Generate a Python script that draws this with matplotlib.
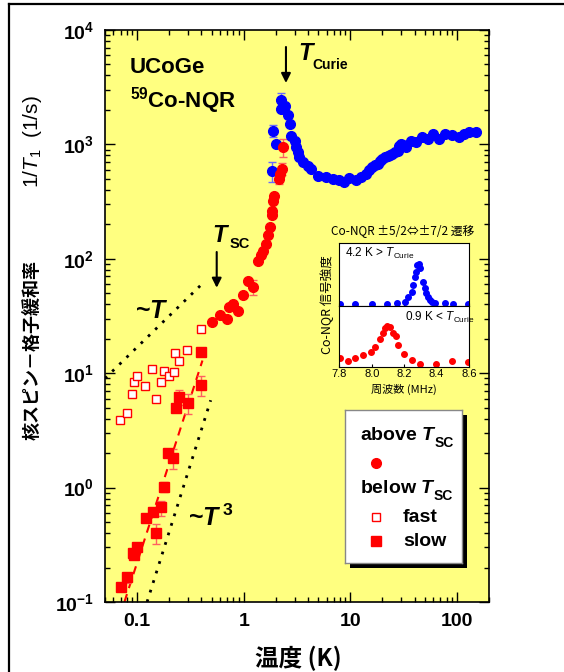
import numpy as np
import matplotlib
matplotlib.use('Agg')
import matplotlib.pyplot as plt
from matplotlib.ticker import FuncFormatter, LogLocator, NullFormatter, MultipleLocator
from matplotlib.patches import Rectangle
from matplotlib.lines import Line2D

plt.rcParams['font.family'] = ['Liberation Sans', 'Noto Sans CJK JP']
plt.rcParams['mathtext.fontset'] = 'custom'
plt.rcParams['mathtext.rm'] = 'Liberation Sans'
plt.rcParams['mathtext.it'] = 'Liberation Sans:italic'
plt.rcParams['mathtext.bf'] = 'Liberation Sans:bold'
plt.rcParams['mathtext.bfit'] = 'Liberation Sans:italic:bold'
plt.rcParams['mathtext.sf'] = 'Liberation Sans'

# --- main data: 1/T1 vs temperature ---
# above T_Curie region (blue)
blue_T = [1.85, 1.88, 2.02, 2.25, 2.25, 2.42, 2.59, 2.69, 2.79, 3.0, 3.1, 3.2, 3.33,
          3.58, 3.99, 4.29, 4.94, 5.92, 6.83, 7.9, 8.78, 9.8, 11.3, 12.6, 14.0, 15.0,
          16.1, 17.0, 18.0, 19.0, 20.0, 21.2, 22.4, 23.5, 24.8, 26.2, 27.7, 28.5, 29.7,
          31.0, 33.0, 36.9, 41.1, 47.5, 53.0, 59.0, 68.0, 78.0, 90.0, 104, 116, 130, 150]
blue_R = [582, 1320, 1010, 2450, 2040, 2180, 1790, 1510, 1190, 1070, 944, 850, 770,
          697, 653, 611, 533, 515, 499, 490, 467, 510, 490, 515, 552, 600,
          640, 660, 677, 720, 747, 770, 798, 810, 826, 860, 883, 960, 1010,
          990, 944, 1070, 1050, 1150, 1110, 1220, 1110, 1240, 1210, 1150, 1240, 1280, 1280]
blue_err = {0: 0.20, 1: 0.12, 3: 0.14}

# above T_SC (red circles)
red_T = [0.50, 0.60, 0.69, 0.73, 0.79, 0.88, 0.985, 1.10, 1.21, 1.36, 1.46, 1.51, 1.61,
         1.69, 1.78, 1.85, 1.85, 1.88, 1.92, 2.12, 2.17, 2.30, 2.36]
red_R = [27.8, 32.5, 30, 38, 40, 35, 48, 64, 57, 96, 107, 118, 135,
         160, 188, 239, 264, 323, 357, 499, 552, 611, 944]
red_err = {8: 0.15, 19: 0.10, 21: 0.12, 22: 0.18}

# below T_SC, fast component (open squares)
fast_T = [0.069, 0.080, 0.089, 0.094, 0.099, 0.119, 0.139, 0.15, 0.168, 0.18, 0.20,
          0.22, 0.227, 0.249, 0.295, 0.40]
fast_R = [3.9, 4.46, 6.6, 8.3, 9.5, 7.8, 10.9, 6.0, 8.4, 10.5, 9.5,
          10.2, 14.9, 12.9, 15.8, 24.4]

# below T_SC, slow component (filled squares)
slow_T = [0.070, 0.081, 0.091, 0.094, 0.10, 0.12, 0.14, 0.15, 0.169, 0.18, 0.196,
          0.218, 0.23, 0.247, 0.297, 0.40, 0.40]
slow_R = [0.136, 0.164, 0.27, 0.26, 0.305, 0.54, 0.61, 0.40, 0.67, 1.02, 2.0,
          1.82, 5.0, 6.2, 5.5, 7.9, 15.2]
slow_err = {1: 0.10, 7: 0.20, 8: 0.15, 9: 0.10, 11: 0.20, 13: 0.15, 14: 0.20, 15: 0.20}

# guide lines
fit_T, fit_R = [0.076, 0.41], [0.10, 12.9]
lin_T, lin_R = [0.05, 0.39], [9.0, 58.0]
cube_T, cube_R = [0.124, 0.49], [0.10, 5.8]

# --- inset spectra ---
f_hi = [7.804, 7.897, 7.999, 8.096, 8.154, 8.205, 8.226, 8.246, 8.257, 8.267, 8.273,
        8.281, 8.292, 8.298, 8.314, 8.329, 8.335, 8.349, 8.359, 8.374, 8.39, 8.452,
        8.503, 8.596]
s_hi = [0.026, 0.026, 0.026, 0.026, 0.037, 0.058, 0.132, 0.222, 0.328, 0.46, 0.54,
        0.646, 0.661, 0.593, 0.381, 0.275, 0.206, 0.132, 0.09, 0.063, 0.037, 0.037,
        0.026, 0.026]
f_lo = [7.804, 7.856, 7.897, 7.948, 7.995, 8.02, 8.051, 8.067, 8.082, 8.096, 8.113,
        8.133, 8.148, 8.164, 8.199, 8.246, 8.298, 8.396, 8.497, 8.596]
s_lo = [0.137, 0.098, 0.137, 0.191, 0.246, 0.328, 0.448, 0.557, 0.628, 0.667, 0.645,
        0.557, 0.503, 0.355, 0.208, 0.109, 0.044, 0.044, 0.098, 0.082]


def with_err(T, R, errs, c, ecol, **kw):
    idx = sorted(errs)
    t = np.array(T)[idx]
    r = np.array(R)[idx]
    e = np.array([errs[i] for i in idx]) * r
    ax.errorbar(t, r, yerr=e, fmt='none', ecolor=ecol, elinewidth=1,
                capsize=3, capthick=1, zorder=3)
    ax.plot(T, R, ls='none', color=c, zorder=4, **kw)


def tsub(a, x, y, main, sub, size, subsize, dy, dx=-2.5):
    # big italic T with a smaller bold subscript hung off its right edge
    t = a.text(x, y, main, fontsize=size, fontweight='bold', va='baseline',
               transform=a.transAxes)
    a.annotate(sub, xy=(1, 0), xycoords=t, xytext=(dx, dy),
               textcoords='offset points', fontsize=subsize, fontweight='bold',
               va='baseline', ha='left')


fig = plt.figure(figsize=(5.64, 6.72), dpi=100)
ax = fig.add_axes([0.1862, 0.1042, 0.6809, 0.8512])
ax.set_facecolor('#FFFF80')
ax.set_xscale('log')
ax.set_yscale('log')
ax.set_xlim(0.05, 200)
ax.set_ylim(0.1, 1e4)

ax.plot(lin_T, lin_R, color='k', lw=2, dashes=(1, 2.6), zorder=2)
ax.plot(cube_T, cube_R, color='k', lw=2, dashes=(1, 2.6), zorder=2)
ax.plot(fit_T, fit_R, color='red', lw=1.5, dashes=(4, 3), zorder=2)

with_err(blue_T, blue_R, blue_err, 'blue', '#6a6aff', marker='o', ms=7)
with_err(red_T, red_R, red_err, 'red', '#ff6060', marker='o', ms=7)
ax.plot(fast_T, fast_R, ls='none', marker='s', ms=6, mfc='white', mec='red',
        mew=1, zorder=4)
with_err(slow_T, slow_R, slow_err, 'red', '#ff6060', marker='s', ms=6.5)

ax.tick_params(which='both', direction='in', top=True, right=True, width=1)
ax.tick_params(which='major', length=7, labelsize=14, pad=8)
ax.tick_params(which='minor', length=3.5)
for s in ax.spines.values():
    s.set_linewidth(1.2)
ax.yaxis.set_major_locator(LogLocator(base=10, numticks=10))
ax.yaxis.set_minor_locator(LogLocator(base=10, subs=np.arange(2, 10), numticks=20))
ax.yaxis.set_minor_formatter(NullFormatter())
ax.xaxis.set_minor_formatter(NullFormatter())
ax.yaxis.set_major_formatter(FuncFormatter(
    lambda v, p: r'$\mathbf{10^{%d}}$' % round(np.log10(v))))
ax.set_xticks([0.1, 1, 10, 100])
ax.set_xticklabels(['0.1', '1', '10', '100'], fontweight='bold')

# annotations
ax.annotate('', xy=(2.49, 3440), xytext=(2.49, 7100),
            arrowprops=dict(arrowstyle='-|>', color='k', lw=1.5, mutation_scale=14,
                            shrinkA=0, shrinkB=0))
ax.annotate('', xy=(0.558, 55.8), xytext=(0.558, 114.6),
            arrowprops=dict(arrowstyle='-|>', color='k', lw=1.5, mutation_scale=14,
                            shrinkA=0, shrinkB=0))
tsub(ax, 0.503, 0.947, r'$\mathbfit{T}$', 'Curie', 17, 10, -2.6)
tsub(ax, 0.279, 0.630, r'$\mathbfit{T}$', 'SC', 17, 10.5, -0.8, -0.5)
ax.text(0.065, 0.925, 'UCoGe', transform=ax.transAxes, fontsize=16,
        fontweight='bold', va='baseline')
ax.text(0.065, 0.864, r'$^{\mathbf{59}}$Co-NQR', transform=ax.transAxes, fontsize=16,
        fontweight='bold', va='baseline')
ax.text(0.078, 0.497, r'~$\mathbfit{T}$', transform=ax.transAxes, fontsize=18,
        fontweight='bold', va='baseline')
ax.text(0.217, 0.132, r'~$\mathbfit{T}^{\ \mathbf{3}}$', transform=ax.transAxes,
        fontsize=18, fontweight='bold', va='baseline')

# axis labels
fig.text(33 / 564, 1 - 440 / 672, '核スピン－格子緩和率', rotation=90, fontsize=13,
         fontweight='bold', ha='center', va='bottom', family='Noto Sans CJK JP')
fig.text(33 / 564, 1 - 95 / 672, r'1/$\mathit{T}_1$  (1/s)', rotation=90, fontsize=15,
         ha='center', va='top')
fig.text(298 / 564, 1 - 658 / 672, '温度 (K)', fontsize=17, fontweight='bold',
         ha='center', va='center', family='Noto Sans CJK JP')

# figure frame (top and left)
fig.add_artist(Line2D([9 / 564, 1], [1 - 4 / 672, 1 - 4 / 672], color='k', lw=1.6,
                      transform=fig.transFigure))
fig.add_artist(Line2D([9 / 564, 9 / 564], [0, 1 - 4 / 672], color='k', lw=1.6,
                      transform=fig.transFigure))

# --- inset spectra ---
ix0, iw = 339.3 / 564, 129.7 / 564
ax_hi = fig.add_axes([ix0, 1 - 305.7 / 672, iw, 63 / 672])
ax_lo = fig.add_axes([ix0, 1 - 366.7 / 672, iw, 61 / 672])
ax_hi.plot(f_hi, s_hi, 'o', color='blue', ms=4)
ax_lo.plot(f_lo, s_lo, 'o', color='red', ms=4)
for a in (ax_hi, ax_lo):
    a.set_xlim(7.8, 8.6)
    a.set_ylim(0, 1)
    a.set_yticks([])
    a.xaxis.set_major_locator(MultipleLocator(0.2))
    a.tick_params(direction='in', length=2, labelsize=8, pad=1.5)
    for s in a.spines.values():
        s.set_linewidth(0.8)
ax_hi.tick_params(labelbottom=False)
ax_lo.set_xticks([7.8, 8.0, 8.2, 8.4, 8.6])
ax_lo.set_xticklabels(['7.8', '8.0', '8.2', '8.4', '8.6'])
ax_hi.text(0.044, 0.837, r'4.2 K > $\mathit{T}_{\mathrm{Curie}}$', fontsize=8.5,
           transform=ax_hi.transAxes, va='center')
ax_lo.text(0.506, 0.80, r'0.9 K < $\mathit{T}_{\mathrm{Curie}}$', fontsize=8.5,
           transform=ax_lo.transAxes, va='center')
fig.text(403 / 564, 1 - 230.7 / 672, 'Co-NQR ±5/2⇔±7/2 遷移', fontsize=8.5,
         ha='center', va='center', family='Noto Sans CJK JP')
fig.text(327 / 564, 1 - 304.7 / 672, 'Co-NQR 信号強度', fontsize=9, rotation=90,
         ha='center', va='center', family='Noto Sans CJK JP')
fig.text(404 / 564, 1 - 389 / 672, '周波数 (MHz)', fontsize=8, ha='center',
         va='center', family='Noto Sans CJK JP')

# --- legend box ---
lx0, ly0, lw_, lh = 345 / 564, 1 - 563.3 / 672, 117.3 / 564, 153.3 / 672
fig.add_artist(Rectangle((lx0 + 5 / 564, ly0 - 5 / 672), lw_, lh, facecolor='k',
                         edgecolor='none', transform=fig.transFigure, zorder=5))
lg = fig.add_axes([lx0, ly0, lw_, lh], zorder=6)
lg.set_xlim(0, 1)
lg.set_ylim(0, 1)
lg.set_xticks([])
lg.set_yticks([])
for s in lg.spines.values():
    s.set_color('#888888')
    s.set_linewidth(1)
lg.plot([0.264], [0.656], 'o', color='red', ms=7)
lg.plot([0.264], [0.304], 's', ms=6, mfc='white', mec='red', mew=1)
lg.plot([0.264], [0.147], 's', ms=6.5, color='red')
tsub(lg, 0.128, 0.804, r'above $\mathbfit{T}$', 'SC', 14, 10, -1.8, -2)
tsub(lg, 0.128, 0.457, r'below $\mathbfit{T}$', 'SC', 14, 10, -1.8, -2)
lg.text(0.494, 0.302, 'fast', fontsize=14, fontweight='bold', va='center')
lg.text(0.494, 0.145, 'slow', fontsize=14, fontweight='bold', va='center')

fig.savefig('out.png', dpi=100)
